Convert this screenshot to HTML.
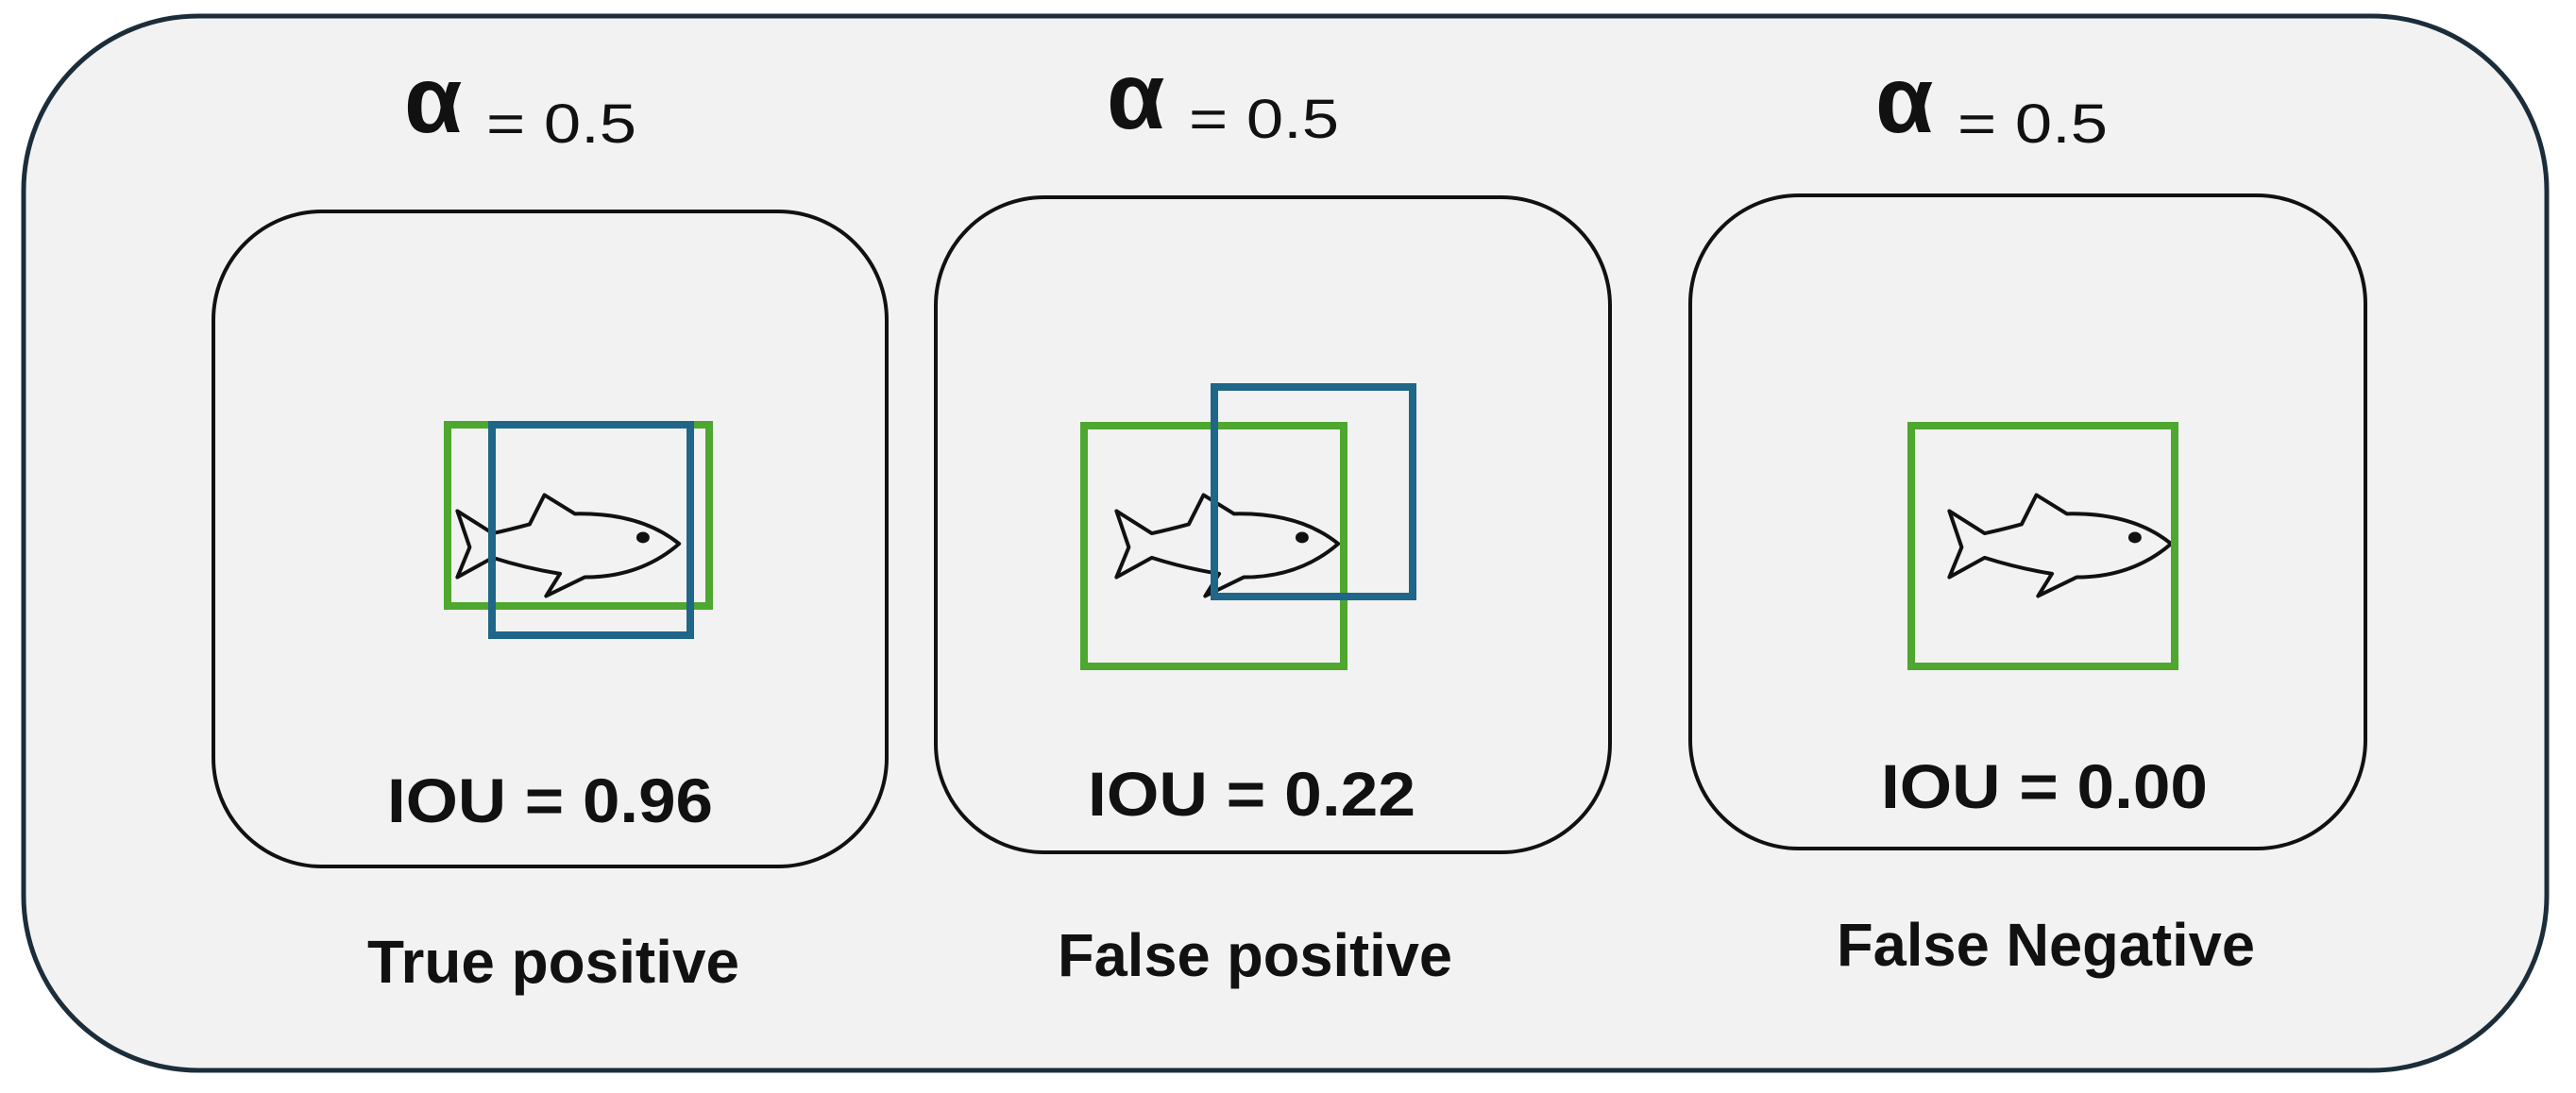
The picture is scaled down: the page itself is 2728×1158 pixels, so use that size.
<!DOCTYPE html>
<html><head><meta charset="utf-8"><style>
html,body{margin:0;padding:0;background:#fff;}
svg{display:block;}
text{font-family:"Liberation Sans",sans-serif;fill:#111;}
</style></head><body>
<svg width="2728" height="1158" viewBox="0 0 2728 1158" xmlns="http://www.w3.org/2000/svg">
<rect width="2728" height="1158" fill="#ffffff"/>
<rect x="25" y="17" width="2672" height="1117" rx="185" ry="185" fill="#f2f2f2" stroke="#1b2d3a" stroke-width="5"/>

<rect x="226" y="224" width="713" height="694" rx="115" fill="#f2f2f2" stroke="#111" stroke-width="4"/>
<rect x="991" y="209" width="714" height="694" rx="115" fill="#f2f2f2" stroke="#111" stroke-width="4"/>
<rect x="1790" y="207" width="715" height="692" rx="115" fill="#f2f2f2" stroke="#111" stroke-width="4"/>

<text x="428" y="140" font-size="100" font-weight="bold">α</text>
<text x="515" y="151" font-size="58" textLength="159" lengthAdjust="spacingAndGlyphs">= 0.5</text>
<text x="1172" y="136" font-size="100" font-weight="bold">α</text>
<text x="1259" y="146" font-size="58" textLength="159" lengthAdjust="spacingAndGlyphs">= 0.5</text>
<text x="1986" y="140" font-size="100" font-weight="bold">α</text>
<text x="2073" y="151" font-size="58" textLength="159" lengthAdjust="spacingAndGlyphs">= 0.5</text>

<g fill="none" stroke="#111" stroke-width="4" stroke-linejoin="round">
  <g transform="scale(0.8696,0.7386)">
    <path vector-effect="non-scaling-stroke" fill="#f2f2f2" d="M557,733 L600,765 Q620,760 645,752 L663,710 L700,737 Q780,735 827,780 Q780,828 712,828 L665,855 L682,823 Q640,815 600,800 L557,828 L572,785 Z"/>
    <circle cx="783" cy="771" r="8" fill="#111" stroke="none"/>
  </g>
  <g transform="translate(698,0) scale(0.8696,0.7386)">
    <path vector-effect="non-scaling-stroke" fill="#f2f2f2" d="M557,733 L600,765 Q620,760 645,752 L663,710 L700,737 Q780,735 827,780 Q780,828 712,828 L665,855 L682,823 Q640,815 600,800 L557,828 L572,785 Z"/>
    <circle cx="783" cy="771" r="8" fill="#111" stroke="none"/>
  </g>
  <g transform="translate(1580,0) scale(0.8696,0.7386)">
    <path vector-effect="non-scaling-stroke" fill="#f2f2f2" d="M557,733 L600,765 Q620,760 645,752 L663,710 L700,737 Q780,735 827,780 Q780,828 712,828 L665,855 L682,823 Q640,815 600,800 L557,828 L572,785 Z"/>
    <circle cx="783" cy="771" r="8" fill="#111" stroke="none"/>
  </g>
</g>

<g fill="none" stroke-width="8">
  <rect x="474" y="450" width="277" height="192" stroke="#4ea72e"/>
  <rect x="521" y="450" width="210" height="223" stroke="#1f6688"/>
  <rect x="1148" y="451" width="275" height="255" stroke="#4ea72e"/>
  <rect x="1286" y="410" width="210" height="222" stroke="#1f6688"/>
  <rect x="2024" y="451" width="279" height="255" stroke="#4ea72e"/>
</g>

<text x="410" y="871" font-size="66" font-weight="bold" textLength="345" lengthAdjust="spacingAndGlyphs">IOU = 0.96</text>
<text x="1152" y="864" font-size="66" font-weight="bold" textLength="347" lengthAdjust="spacingAndGlyphs">IOU = 0.22</text>
<text x="1992" y="856" font-size="66" font-weight="bold" textLength="346" lengthAdjust="spacingAndGlyphs">IOU = 0.00</text>

<text x="389" y="1041" font-size="64" font-weight="bold" textLength="394" lengthAdjust="spacingAndGlyphs">True positive</text>
<text x="1120" y="1034" font-size="64" font-weight="bold" textLength="418" lengthAdjust="spacingAndGlyphs">False positive</text>
<text x="1945" y="1023" font-size="64" font-weight="bold" textLength="443" lengthAdjust="spacingAndGlyphs">False Negative</text>
</svg>
</body></html>
